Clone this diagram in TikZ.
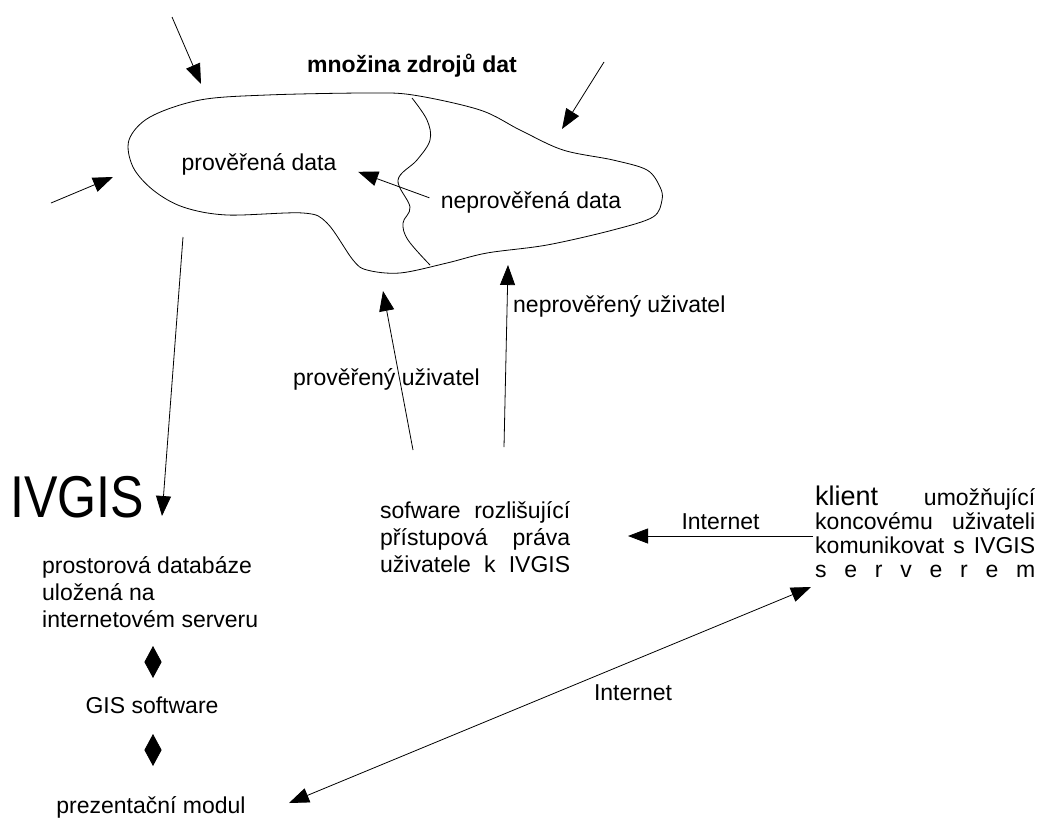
\documentclass[tikz,border=0pt]{standalone}
\usepackage{fontspec}
\setmainfont{Liberation Sans}
\usepackage{graphicx}
\usetikzlibrary{arrows.meta,positioning}
\tikzset{
  txt/.style={inner sep=0pt,font=\fontsize{23}{27}\selectfont,align=left},
  small/.style={inner sep=0pt,font=\fontsize{23}{24}\selectfont,align=left},
  ttl/.style={inner sep=0pt,font=\fontsize{23}{26}\selectfont\bfseries},
  edge/.style={line width=0.8pt},
  arr/.style={-{Triangle[length=20pt,width=15pt]},line width=0.8pt},
  darr/.style={{Triangle[length=20pt,width=15pt]}-{Triangle[length=20pt,width=15pt]},line width=0.8pt},
  dia/.style={{Triangle[length=16pt,width=17pt]}-{Triangle[length=16pt,width=17pt]},line width=0.8pt}
}
\newcommand{\swline}[1]{\makebox[190pt][s]{#1}}
\newcommand{\klline}[1]{\makebox[220pt][s]{#1}}

\begin{document}
\begin{tikzpicture}[x=1pt,y=-1pt]
  \useasboundingbox (0,0) rectangle (1043,819);
  % mnozina zdroju dat
  \draw[edge] plot[smooth cycle,tension=0.55] coordinates {
    (129,140) (150,117) (200,100) (267,95) (367,93) (413,95) (480,110)
    (520,130) (563,150) (613,160) (647,170) (660,187) (662,200) (653,217)
    (613,230) (547,245) (487,253) (447,263) (400,273) (367,270) (353,260)
    (327,223) (303,213) (227,215) (183,207) (153,190) (133,167)};
  \draw[edge] plot[smooth,tension=0.6] coordinates {
    (412,98) (427,120) (430,140) (417,160) (398,180) (410,207) (403,223)
    (408,240) (430,265)};
  \node[ttl] (zdroje) at (412,66) {množina zdrojů dat};
  \node[txt,anchor=base] (prov) at (259,170) {prověřená data};
  \node[txt,anchor=base] (neprov) at (531,208) {neprověřená data};
  \draw[arr,shorten <=12pt,shorten >=23pt] (neprov.west) -- (prov.east);

  \coordinate (s1) at (172,17);  \coordinate (s1t) at (201,84);
  \coordinate (s2) at (604,62);  \coordinate (s2t) at (562,129);
  \coordinate (s3) at (51,203);  \coordinate (s3t) at (113,177);
  \draw[arr] (s1) -- (s1t);
  \draw[arr] (s2) -- (s2t);
  \draw[arr] (s3) -- (s3t);

  % IVGIS
  \node[anchor=base,inner sep=0pt] (ivgis) at (77,517)
       {\fontsize{59}{60}\selectfont\scalebox{0.85}[1]{IVGIS}};
  \node[txt,anchor=north west] (db) at (42,556)
       {prostorová databáze\\uložená na\\internetovém serveru};
  \node[txt,anchor=base] (gis) at (152,713) {GIS software};
  \node[txt,anchor=base] (prez) at (151,813) {prezentační modul};
  \coordinate (d1) at (153,662);
  \coordinate (d2) at (153,750);
  \draw[dia] ([yshift=-16pt]d1) -- ([yshift=16pt]d1);
  \draw[dia] ([yshift=-16pt]d2) -- ([yshift=16pt]d2);
  \coordinate (iv) at (183,237);
  \draw[arr] (iv) -- (162,516) coordinate (ivt);

  % pristupova prava
  \node[txt,anchor=north west] (sw) at (380,501)
       {\swline{sofware rozlišující}\\\swline{přístupová práva}\\\swline{uživatele k IVGIS}};
  \coordinate (u1) at (413,450); \coordinate (u1t) at (383,291);
  \coordinate (u2) at (504,447); \coordinate (u2t) at (508,265);
  \draw[arr] (u1) -- (u1t);
  \draw[arr] (u2) -- (u2t);
  \node[txt,anchor=base west] (pu) at (293,385) {prověřený uživatel};
  \node[txt,anchor=base west] (npu) at (513,312) {neprověřený uživatel};

  % klient
  \node[small,anchor=north west] (kl) at (815,486)
       {\klline{{\fontsize{27}{27}\selectfont klient} umožňující}\\
        \klline{koncovému uživateli}\\
        \klline{komunikovat s IVGIS}\\
        \klline{s\hfill e\hfill r\hfill v\hfill e\hfill r\hfill e\hfill m}};
  \coordinate (k1) at (813,536); \coordinate (k1t) at (628,536);
  \draw[arr] (k1) -- node[txt,above=6pt] (inet1) {Internet} (k1t);
  \coordinate (k2) at (811,587); \coordinate (k2t) at (289,803);
  \draw[darr] (k2t) -- (k2);
  \node[txt,anchor=base] (inet2) at (633,700) {Internet};
\end{tikzpicture}
\end{document}
